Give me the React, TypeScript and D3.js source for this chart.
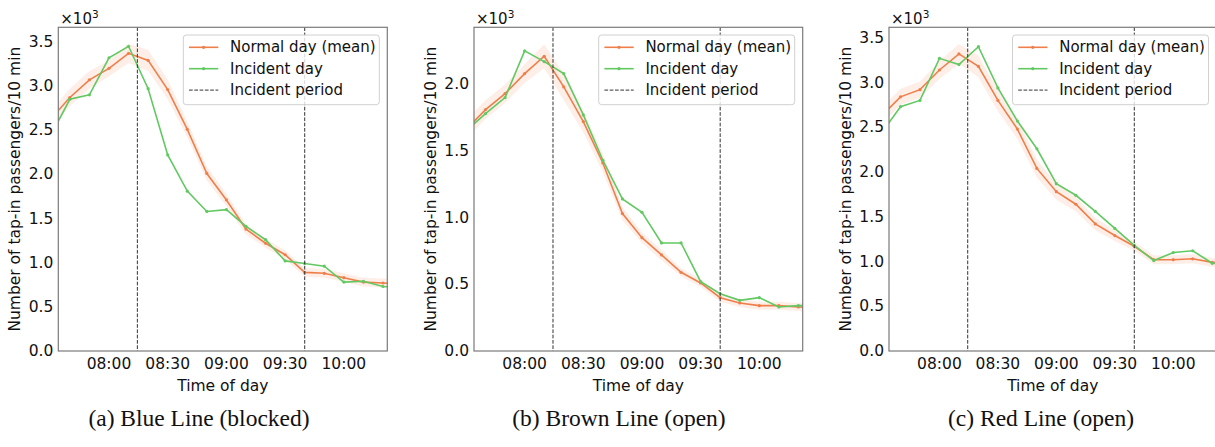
import React from "react";
import * as d3 from "d3";

// time in minutes after 07:00 (07:30 ... 10:30, every 10 minutes)
const times = [30, 40, 50, 60, 70, 80, 90, 100, 110, 120, 130, 140, 150, 160, 170, 180, 190, 200, 210];
const xTickMinutes = [60, 90, 120, 150, 180];
const xTickLabels = ["08:00", "08:30", "09:00", "09:30", "10:00"];
const incidentStart = 74.5;
const incidentEnd = 160;

const blueNormal = [2620, 2870, 3070, 3200, 3370, 3290, 2960, 2510, 2010, 1710, 1380, 1220, 1090, 890, 880, 830, 780, 770, 760];
const blueNormalStd = [100, 100, 100, 90, 110, 120, 110, 90, 80, 70, 60, 50, 50, 50, 50, 50, 50, 50, 50];
const blueIncident = [2430, 2850, 2900, 3320, 3450, 2970, 2220, 1810, 1580, 1600, 1410, 1260, 1020, 990, 960, 780, 790, 730, 720];

const brownNormal = [1660, 1810, 1930, 2080, 2210, 1980, 1720, 1410, 1030, 850, 720, 590, 510, 400, 360, 340, 340, 330, 320];
const brownNormalStd = [70, 70, 70, 70, 90, 100, 80, 70, 50, 40, 40, 30, 30, 30, 30, 30, 30, 30, 30];
const brownIncident = [1650, 1780, 1900, 2250, 2170, 2080, 1770, 1430, 1140, 1040, 810, 810, 520, 430, 380, 400, 330, 340, 340];

const redNormal = [2620, 2840, 2920, 3140, 3320, 3180, 2800, 2480, 2040, 1780, 1640, 1420, 1290, 1170, 1020, 1020, 1030, 990, 990];
const redNormalStd = [90, 90, 90, 100, 110, 120, 120, 110, 100, 90, 80, 70, 60, 50, 50, 50, 50, 50, 50];
const redIncident = [2430, 2730, 2800, 3270, 3200, 3400, 2940, 2570, 2260, 1870, 1740, 1560, 1370, 1180, 1010, 1100, 1120, 980, 970];

const legendLabels = ["Normal day (mean)", "Incident day", "Incident period"];
const captions = ["(a) Blue Line (blocked)", "(b) Brown Line (open)", "(c) Red Line (open)"];
const yLabel = "Number of tap-in passengers/10 min";
const xLabel = "Time of day";

const ORANGE = "#EF7F4A";
const GREEN = "#62C962";
const SPINE = "#7a7a7a";
const FONT = "DejaVu Sans, sans-serif";

const panels = [
  { id: "a", left: 58.3, right: 387.3, yMax: 3665, yTicks: [0, 500, 1000, 1500, 2000, 2500, 3000, 3500], normal: blueNormal, std: blueNormalStd, incident: blueIncident, caption: captions[0], capX: 199 },
  { id: "b", left: 474, right: 802.7, yMax: 2427, yTicks: [0, 500, 1000, 1500, 2000], normal: brownNormal, std: brownNormalStd, incident: brownIncident, caption: captions[1], capX: 619 },
  { id: "c", left: 889, right: 1216.5, yMax: 3617, yTicks: [0, 500, 1000, 1500, 2000, 2500, 3000, 3500], normal: redNormal, std: redNormalStd, incident: redIncident, caption: captions[2], capX: 1041 },
];

const TOP = 27.3;
const BOTTOM = 351;

function Panel({ p }: { p: any }) {
  const x = d3.scaleLinear().domain([34.1, 202.2]).range([p.left, p.right]);
  const y = d3.scaleLinear().domain([0, p.yMax]).range([BOTTOM, TOP]);
  const line = d3.line<number>().x((_, i) => x(times[i])).y((d) => y(d));
  const area = d3
    .area<number>()
    .x((_, i) => x(times[i]))
    .y0((d, i) => y(d - p.std[i]))
    .y1((d, i) => y(d + p.std[i]));
  const clipId = `clip-${p.id}`;
  const lgW = 196;
  const lgX = p.right - 8 - lgW;
  const lgY = TOP + 7.7;
  const fmt = d3.format(".1f");
  const yMid = (TOP + BOTTOM) / 2;
  return (
    <g>
      <defs>
        <clipPath id={clipId}>
          <rect x={p.left} y={TOP} width={p.right - p.left} height={BOTTOM - TOP} />
        </clipPath>
      </defs>
      <g clipPath={`url(#${clipId})`}>
        <path d={area(p.normal) || ""} fill={ORANGE} fillOpacity={0.13} stroke="none" />
        <path d={line(p.normal) || ""} fill="none" stroke={ORANGE} strokeWidth={1.6} />
        {p.normal.map((d: number, i: number) => (
          <circle key={"n" + i} cx={x(times[i])} cy={y(d)} r={1.6} fill={ORANGE} />
        ))}
        <path d={line(p.incident) || ""} fill="none" stroke={GREEN} strokeWidth={1.6} />
        {p.incident.map((d: number, i: number) => (
          <circle key={"g" + i} cx={x(times[i])} cy={y(d)} r={1.6} fill={GREEN} />
        ))}
        {[incidentStart, incidentEnd].map((t) => (
          <line key={t} x1={x(t)} x2={x(t)} y1={TOP} y2={BOTTOM} stroke="#333" strokeWidth={1} strokeDasharray="3.7,1.6" />
        ))}
      </g>
      <rect x={p.left} y={TOP} width={p.right - p.left} height={BOTTOM - TOP} fill="none" stroke={SPINE} strokeWidth={1.2} />
      {p.yTicks.map((t: number) => (
        <text key={t} x={p.left - 5} y={y(t)} textAnchor="end" dominantBaseline="central" fontSize={15.5} fontFamily={FONT} fill="#111">
          {fmt(t / 1000)}
        </text>
      ))}
      {xTickMinutes.map((t, i) => (
        <text key={t} x={x(t)} y={363.5} textAnchor="middle" dominantBaseline="central" fontSize={15.5} fontFamily={FONT} fill="#111">
          {xTickLabels[i]}
        </text>
      ))}
      <text x={p.left + 2} y={24} fontSize={15} fontFamily={FONT} fill="#111">
        ×10<tspan dy={-6.5} fontSize={10.5}>3</tspan>
      </text>
      <text
        transform={`translate(${p.left - 43},${yMid}) rotate(-90)`}
        textAnchor="middle"
        dominantBaseline="central"
        fontSize={15.5}
        fontFamily={FONT}
        fill="#111"
      >
        {yLabel}
      </text>
      <text x={(p.left + p.right) / 2} y={385.5} textAnchor="middle" dominantBaseline="central" fontSize={15.5} fontFamily={FONT} fill="#111">
        {xLabel}
      </text>
      <g>
        <rect x={lgX} y={lgY} width={lgW} height={69.7} rx={3} fill="#fff" fillOpacity={0.8} stroke="#d0d0d0" strokeWidth={1} />
        {legendLabels.map((lab, i) => {
          const ry = lgY + 12.3 + i * 21.4;
          const color = i === 0 ? ORANGE : i === 1 ? GREEN : "#333";
          return (
            <g key={lab}>
              {i < 2 ? (
                <>
                  <line x1={lgX + 5.7} x2={lgX + 35} y1={ry} y2={ry} stroke={color} strokeWidth={1.6} />
                  <circle cx={lgX + 20.3} cy={ry} r={1.6} fill={color} />
                </>
              ) : (
                <line x1={lgX + 5.7} x2={lgX + 35} y1={ry} y2={ry} stroke={color} strokeWidth={1} strokeDasharray="3.7,1.6" />
              )}
              <text x={lgX + 46.7} y={ry} dominantBaseline="central" fontSize={15} fontFamily={FONT} fill="#111">
                {lab}
              </text>
            </g>
          );
        })}
      </g>
      <text x={p.capX} y={418} textAnchor="middle" dominantBaseline="central" fontSize={23.5} fontFamily="Liberation Serif, Times New Roman, serif" fill="#111">
        {p.caption}
      </text>
    </g>
  );
}

export default function App() {
  return (
    <svg width={1215} height={447} style={{ position: "absolute", left: 0, top: 0, background: "#fff" }}>
      <rect x={0} y={0} width={1215} height={447} fill="#fff" />
      {panels.map((p) => (
        <Panel key={p.id} p={p} />
      ))}
    </svg>
  );
}
